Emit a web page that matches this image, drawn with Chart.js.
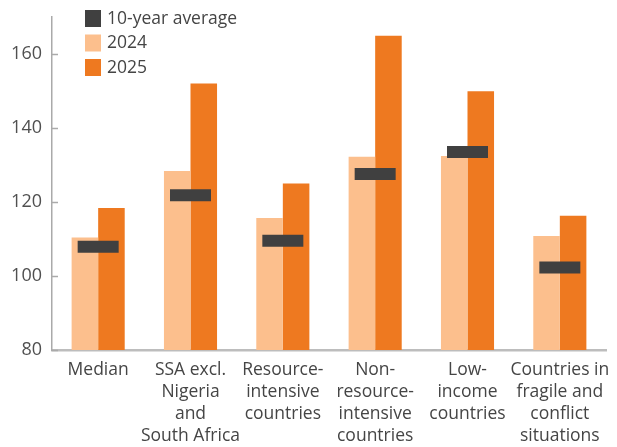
<!DOCTYPE html>
<html>
<head>
<meta charset="utf-8">
<script src="https://cdn.jsdelivr.net/npm/chart.js@4"></script>
<style>
  html, body { margin: 0; padding: 0; background: #fff; }
  #wrap { width: 617px; height: 447px; }
</style>
</head>
<body>
<div id="wrap"><canvas id="barChart" width="617" height="447"></canvas></div>
<script>
// values
const categories = [
  ['Median'],
  ['SSA excl.', 'Nigeria', 'and', 'South Africa'],
  ['Resource-', 'intensive', 'countries'],
  ['Non-', 'resource-', 'intensive', 'countries'],
  ['Low-', 'income', 'countries'],
  ['Countries in', 'fragile and', 'conflict', 'situations']
];
const avg10 = [107.9, 121.8, 109.5, 127.6, 133.5, 102.3];
const values2024 = [110.4, 128.4, 115.7, 132.2, 132.4, 110.8];
const values2025 = [118.4, 152.0, 125.0, 164.9, 149.9, 116.3];
const yTicks = [80, 100, 120, 140, 160];

const textColor = '#454545';
const fontFamily = '"Open Sans", sans-serif';

// legend drawn inside the plot, top-left
const legendInside = {
  id: 'legendInside',
  afterDraw(chart) {
    const ctx = chart.ctx;
    ctx.save();
    ctx.font = '17.5px ' + fontFamily;
    ctx.textBaseline = 'middle';
    chart.data.datasets.forEach((ds, i) => {
      const y = 10 + i * 24.5;
      ctx.fillStyle = ds.legendColor;
      ctx.fillRect(85, y, 16, 17);
      ctx.fillStyle = textColor;
      ctx.fillText(ds.label, 107, y + 9);
    });
    ctx.restore();
  }
};

// short tick marks pointing into the plot
const innerTicks = {
  id: 'innerTicks',
  afterDatasetsDraw(chart) {
    const ctx = chart.ctx;
    const y = chart.scales.y;
    ctx.save();
    ctx.strokeStyle = '#aaaaaa';
    ctx.lineWidth = 1.5;
    yTicks.forEach(v => {
      const py = Math.round(y.getPixelForValue(v)) + 0.5;
      ctx.beginPath();
      ctx.moveTo(chart.chartArea.left, py);
      ctx.lineTo(chart.chartArea.left + 6, py);
      ctx.stroke();
    });
    ctx.restore();
  }
};

function noPadding(scale) {
  scale.paddingTop = 0;
  scale.paddingBottom = 0;
  scale.paddingLeft = 0;
  scale.paddingRight = 0;
}

const ctx = document.getElementById('barChart');
new Chart(ctx, {
  type: 'bar',
  data: {
    labels: categories,
    datasets: [
      {
        type: 'line',
        label: '10-year average',
        data: avg10,
        showLine: false,
        pointStyle: 'line',
        pointRadius: 20.5,
        pointHoverRadius: 20.5,
        pointBorderWidth: 12,
        pointHoverBorderWidth: 12,
        borderColor: '#404040',
        backgroundColor: '#404040',
        legendColor: '#404040',
        order: 0
      },
      {
        label: '2024',
        data: values2024,
        backgroundColor: '#FCBF8D',
        legendColor: '#FCBF8D',
        order: 1
      },
      {
        label: '2025',
        data: values2025,
        backgroundColor: '#EE7920',
        legendColor: '#EE7920',
        order: 1
      }
    ]
  },
  options: {
    responsive: false,
    animation: false,
    events: [],
    layout: { autoPadding: false, padding: { top: 17, right: 11, left: 0, bottom: 0 } },
    datasets: {
      bar: { categoryPercentage: 0.575, barPercentage: 1.0 }
    },
    plugins: {
      legend: { display: false },
      tooltip: { enabled: false }
    },
    scales: {
      x: {
        grid: { display: false, drawTicks: false },
        border: { display: true, color: '#bdbdbd', width: 2.5 },
        ticks: {
          color: textColor,
          font: { family: fontFamily, size: 17.5, lineHeight: 22 / 17.5 },
          padding: 9,
          maxRotation: 0,
          autoSkip: false
        },
        afterFit(scale) { scale.height = 97; noPadding(scale); }
      },
      y: {
        min: 80,
        max: 170,
        grid: { display: false, drawTicks: false },
        border: { display: true, color: '#aaaaaa', width: 1.5 },
        ticks: {
          stepSize: 20,
          color: '#505050',
          font: { family: fontFamily, size: 18 },
          padding: 10
        },
        afterBuildTicks(scale) {
          scale.ticks = yTicks.map(v => ({ value: v }));
        },
        afterFit(scale) { scale.width = 52; noPadding(scale); }
      }
    }
  },
  plugins: [legendInside, innerTicks]
});
</script>
</body>
</html>
